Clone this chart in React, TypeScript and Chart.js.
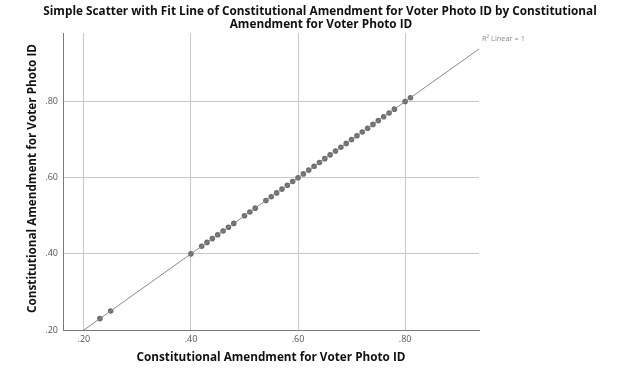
import React, { useEffect, useRef } from "react";
import { Chart, registerables } from "chart.js";

Chart.register(...registerables);

const titleLines = [
  "Simple Scatter with Fit Line of Constitutional Amendment for Voter Photo ID by Constitutional",
  "Amendment for Voter Photo ID",
];
const xAxisTitle = "Constitutional Amendment for Voter Photo ID";
const yAxisTitle = "Constitutional Amendment for Voter Photo ID";
const fitLabel = "R\u00B2 Linear = 1";

const xValues = [
  0.23, 0.25, 0.4, 0.42, 0.43, 0.44, 0.45, 0.46, 0.47, 0.48, 0.5, 0.51, 0.52,
  0.54, 0.55, 0.56, 0.57, 0.58, 0.59, 0.6, 0.61, 0.62, 0.63, 0.64, 0.65, 0.66,
  0.67, 0.68, 0.69, 0.7, 0.71, 0.72, 0.73, 0.74, 0.75, 0.76, 0.77, 0.78, 0.8,
  0.81,
];
const yValues = [
  0.23, 0.25, 0.4, 0.42, 0.43, 0.44, 0.45, 0.46, 0.47, 0.48, 0.5, 0.51, 0.52,
  0.54, 0.55, 0.56, 0.57, 0.58, 0.59, 0.6, 0.61, 0.62, 0.63, 0.64, 0.65, 0.66,
  0.67, 0.68, 0.69, 0.7, 0.71, 0.72, 0.73, 0.74, 0.75, 0.76, 0.77, 0.78, 0.8,
  0.81,
];
const tickValues = [0.2, 0.4, 0.6, 0.8];
const xRange = [0.161, 0.938];
const yRange = [0.2, 0.98];

const fmt = (v: number) => v.toFixed(2).replace(/^0/, "");

function linearFit(xs: number[], ys: number[]) {
  const n = xs.length;
  const mx = xs.reduce((a, b) => a + b, 0) / n;
  const my = ys.reduce((a, b) => a + b, 0) / n;
  let sxy = 0;
  let sxx = 0;
  for (let i = 0; i < n; i++) {
    sxy += (xs[i] - mx) * (ys[i] - my);
    sxx += (xs[i] - mx) * (xs[i] - mx);
  }
  const slope = sxy / sxx;
  return { slope, intercept: my - slope * mx };
}

const FONT = "'Open Sans', 'DejaVu Sans', sans-serif";

function fitFont(ctx: CanvasRenderingContext2D, text: string, width: number, weight: string) {
  ctx.font = `${weight} 20px ${FONT}`;
  const w = ctx.measureText(text).width;
  const size = (20 * width) / w;
  ctx.font = `${weight} ${size.toFixed(2)}px ${FONT}`;
}

export default function App() {
  const ref = useRef<HTMLCanvasElement | null>(null);

  useEffect(() => {
    document.body.style.margin = "0";
    const canvas = ref.current;
    if (!canvas) return;

    const { slope, intercept } = linearFit(xValues, yValues);
    const x0 = Math.max(xRange[0], (yRange[0] - intercept) / slope);
    const x1 = Math.min(xRange[1], (yRange[1] - intercept) / slope);
    const fitPts = [
      { x: x0, y: slope * x0 + intercept },
      { x: x1, y: slope * x1 + intercept },
    ];

    const textPlugin = {
      id: "texts",
      afterDraw(chart: any) {
        const ctx = chart.ctx;
        const area = chart.chartArea;
        ctx.save();
        ctx.fillStyle = "#111";
        ctx.textAlign = "center";
        ctx.textBaseline = "middle";
        fitFont(ctx, titleLines[0], 554, "bold");
        ctx.fillText(titleLines[0], 320, 12);
        ctx.fillText(titleLines[1], 321, 25);

        fitFont(ctx, xAxisTitle, 269, "bold");
        ctx.fillText(xAxisTitle, 271, 358);

        ctx.save();
        ctx.translate(33, 178.5);
        ctx.rotate(-Math.PI / 2);
        ctx.fillText(yAxisTitle, 0, 0);
        ctx.restore();

        ctx.fillStyle = "#8a8a8a";
        ctx.textAlign = "left";
        fitFont(ctx, fitLabel, 43, "normal");
        ctx.fillText(fitLabel, area.right + 3, 39);
        ctx.restore();
      },
    };

    const chart = new Chart(canvas, {
      type: "scatter",
      data: {
        datasets: [
          {
            type: "line",
            data: fitPts,
            borderColor: "#8a8a8a",
            borderWidth: 1,
            pointRadius: 0,
            fill: false,
          } as any,
          {
            type: "scatter",
            data: xValues.map((x, i) => ({ x, y: yValues[i] })),
            backgroundColor: "#6e6e6e",
            borderColor: "#6e6e6e",
            borderWidth: 0,
            pointRadius: 2.8,
          },
        ],
      },
      options: {
        animation: false,
        responsive: false,
        maintainAspectRatio: false,
        layout: { padding: { top: 33, right: 161, left: 0, bottom: 0 } },
        plugins: {
          legend: { display: false },
          tooltip: { enabled: false },
          title: { display: false },
        },
        scales: {
          x: {
            type: "linear",
            min: xRange[0],
            max: xRange[1],
            afterBuildTicks: (scale: any) => {
              scale.ticks = tickValues.map((v) => ({ value: v }));
            },
            afterFit: (scale: any) => {
              scale.height = 47;
            },
            ticks: {
              callback: (v: any) => fmt(Number(v)),
              color: "#555",
              font: { family: FONT, size: 9 },
              padding: 4,
              maxRotation: 0,
            },
            grid: { color: "#c8c8c8", lineWidth: 1, drawTicks: false },
            border: { color: "#7a7a7a", width: 1 },
          },
          y: {
            type: "linear",
            min: yRange[0],
            max: yRange[1],
            afterBuildTicks: (scale: any) => {
              scale.ticks = tickValues.map((v) => ({ value: v }));
            },
            afterFit: (scale: any) => {
              scale.width = 63;
            },
            ticks: {
              callback: (v: any) => fmt(Number(v)),
              color: "#555",
              font: { family: FONT, size: 9 },
              padding: 5,
            },
            grid: { color: "#c8c8c8", lineWidth: 1, drawTicks: false },
            border: { color: "#7a7a7a", width: 1 },
          },
        },
      },
      plugins: [textPlugin],
    } as any);

    return () => chart.destroy();
  }, []);

  return (
    <div style={{ width: 640, height: 377, position: "relative" }}>
      <canvas ref={ref} width={640} height={377} style={{ display: "block", width: 640, height: 377 }} />
    </div>
  );
}
